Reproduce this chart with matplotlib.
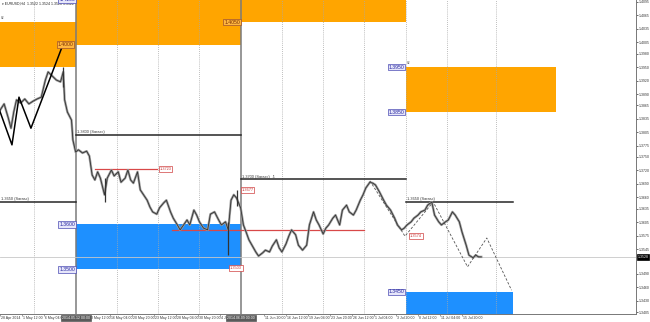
import numpy as np
import matplotlib.pyplot as plt
import matplotlib.transforms as mtrans

plt.rcParams['font.family'] = ['Liberation Sans', 'DejaVu Sans']

# H4 bar index -> close price
bars = [0, 3, 6, 8, 10, 12, 15, 18, 21, 24, 27, 30, 33, 35, 38, 41, 44, 46, 47, 49,
        52, 53, 55, 57, 60, 63, 65, 67, 69, 71, 73, 76, 78, 81, 83, 86, 88, 91, 93, 95,
        97, 100, 102, 105, 107, 109, 111, 114, 116, 119, 121, 124, 126, 129, 131, 134, 136, 138, 141, 143,
        145, 148, 151, 153, 156, 159, 161, 164, 166, 168, 170, 172, 175, 177, 179, 181, 184, 186, 188, 191,
        193, 196, 198, 201, 203, 205, 208, 210, 212, 215, 217, 220, 223, 225, 228, 230, 232, 235, 237, 239,
        242, 244, 247, 249, 252, 254, 257, 259, 262, 264, 266, 269, 271, 273, 276, 279, 281, 284, 287, 289,
        292, 294, 296, 299, 301, 304, 306, 309, 311, 314, 316, 319, 321, 324, 326, 329, 331, 334, 336, 339,
        341, 344, 346, 348, 350]
closes = [1.3854, 1.3868, 1.3837, 1.3814, 1.3850, 1.3877, 1.3870, 1.3879, 1.3868, 1.3874,
          1.3879, 1.3883, 1.3921, 1.3939, 1.3930, 1.3921, 1.3917, 1.3939, 1.3877, 1.3850,
          1.3832, 1.3788, 1.3761, 1.3766, 1.3759, 1.3763, 1.3752, 1.3710, 1.3699, 1.3717,
          1.3703, 1.3666, 1.3703, 1.3721, 1.3708, 1.3717, 1.3694, 1.3703, 1.3721, 1.3699,
          1.3692, 1.3717, 1.3677, 1.3663, 1.3654, 1.3639, 1.3628, 1.3623, 1.3637, 1.3648,
          1.3654, 1.3628, 1.3614, 1.3599, 1.3588, 1.3601, 1.3610, 1.3599, 1.3632, 1.3621,
          1.3606, 1.3592, 1.3588, 1.3623, 1.3628, 1.3610, 1.3599, 1.3606, 1.3588, 1.3654,
          1.3666, 1.3659, 1.3637, 1.3599, 1.3583, 1.3566, 1.3550, 1.3539, 1.3530, 1.3537,
          1.3543, 1.3539, 1.3552, 1.3566, 1.3548, 1.3539, 1.3557, 1.3574, 1.3588, 1.3577,
          1.3554, 1.3543, 1.3554, 1.3599, 1.3628, 1.3610, 1.3599, 1.3579, 1.3592, 1.3599,
          1.3614, 1.3621, 1.3599, 1.3632, 1.3643, 1.3628, 1.3621, 1.3632, 1.3654, 1.3666,
          1.3681, 1.3694, 1.3692, 1.3688, 1.3672, 1.3654, 1.3643, 1.3632, 1.3614, 1.3599,
          1.3588, 1.3592, 1.3599, 1.3606, 1.3614, 1.3621, 1.3628, 1.3632, 1.3643, 1.3650,
          1.3621, 1.3606, 1.3599, 1.3606, 1.3610, 1.3628, 1.3621, 1.3606, 1.3583, 1.3554,
          1.3532, 1.3526, 1.3532, 1.3528, 1.3528]

spike_bar = [46, 76, 166, 172]
spike_lo = [1.3906, 1.3650, 1.3532, 1.3640]
spike_hi = [1.3950, 1.3703, 1.3606, 1.3677]

# zigzags
zz_bar = [-2, 8.7, 13.8, 22.5, 45.8]
zz_price = [1.3868, 1.3777, 1.3883, 1.3814, 1.4000]
zz2_bar = [269, 294.5, 315, 340, 354, 372]
zz2_price = [1.3697, 1.3574, 1.3650, 1.3506, 1.3570, 1.3454]

# zones: (start bar, end bar, low, high)
orange_zones = [(-5, 55, 1.3950, 1.4050), (55, 175, 1.4000, 1.4100),
                (175, 295, 1.4050, 1.4150), (295, 404, 1.3850, 1.3950)]
blue_zones = [(55, 175, 1.3500, 1.3600), (295, 373, 1.3300, 1.3450)]

# levels: (start, end, price)
levels = [(0, 55, 1.3650), (55, 175, 1.3800), (175, 295, 1.3700), (295, 373, 1.3650)]
level_names = ['1.3650 (Sarasc)', '1.3800 (Sarasc)', '1.3700 (Sarasc)  \u21e9', '1.3650 (Sarasc)']
red_levels = [(69, 114, 1.3723), (125, 265, 1.3587)]
red_tags = [(120.5, 1.3723, '1.3723'), (180, 1.3677, '1.3677'),
            (171.6, 1.3503, '1.3503'), (302.5, 1.3574, '1.3574')]
brown_tags = [(53.5, 1.4000, '1.4000'), (174.5, 1.4050, '1.4050')]
blue_tags = [(54.5, 1.4100, '1.4100'), (54.5, 1.3600, '1.3600'), (54.5, 1.3500, '1.3500'),
             (294, 1.3950, '1.3950'), (294, 1.3850, '1.3850'), (294, 1.3450, '1.3450')]

grid_bars = [25, 85, 115, 145, 205, 235, 265, 295, 325, 361]
sep_bars = [55, 175]
sep_names = ['2014.05.12 00:00', '2014.06.09 00:00']

# time labels every 16 bars; those under the separator tags are not shown
time_bars = [0, 16, 32, 64, 80, 96, 112, 128, 144, 160, 192, 208, 224, 240, 256, 272, 288,
             304, 320, 336]
time_labels = ['28 Apr 2014', '1 May 12:00', '6 May 04:00', '13 May 12:00',
               '16 May 04:00', '20 May 20:00', '23 May 12:00', '28 May 04:00', '30 May 20:00',
               '4 Jun 12:00', '11 Jun 20:00', '16 Jun 12:00', '19 Jun 04:00',
               '23 Jun 20:00', '26 Jun 12:00', '1 Jul 04:00', '3 Jul 20:00', '8 Jul 12:00',
               '11 Jul 04:00', '15 Jul 20:00']
price_ticks = [1.4095, 1.4065, 1.4035, 1.4005, 1.3980, 1.3950, 1.3920, 1.3890, 1.3865,
               1.3835, 1.3805, 1.3775, 1.3750, 1.3720, 1.3690, 1.3660, 1.3635, 1.3605,
               1.3575, 1.3545, 1.3490, 1.3460, 1.3430, 1.3405]
last_price = 1.3528

fs = 2.5
fig = plt.figure(figsize=(6.5, 3.22), dpi=100)
ax = fig.add_axes([0, 8 / 322, 636 / 650, 314 / 322])
ax.set_xlim(0, 462.5)
ax.set_ylim(1.34011, 1.40989)

for x0, x1, lo, hi in orange_zones:
    ax.fill_between([x0, x1], lo, hi, color='#ffa500', lw=0, zorder=1)
for x0, x1, lo, hi in blue_zones:
    ax.fill_between([x0, x1], lo, hi, color='#1e90ff', lw=0, zorder=1)

for g in grid_bars:
    ax.axvline(g, color='#a8a8a8', lw=0.6, ls=(0, (1, 1.5)), zorder=2)
for s in sep_bars:
    ax.axvline(s, color='#7a7a7a', lw=1.1, zorder=2)
ax.axhline(last_price, color='#c8c8c8', lw=0.6, zorder=2)

for (x0, x1, p), name in zip(levels, level_names):
    ax.plot([x0, x1], [p, p], color='#262626', lw=1.1, zorder=3)
    ax.text(x0 + 1, p + 0.0002, name, fontsize=fs + 0.3, color='#333333', va='bottom', ha='left', zorder=6)
for x0, x1, p in red_levels:
    ax.plot([x0, x1], [p, p], color='#d84848', lw=0.9, zorder=4)

# price bars
ax.plot(bars, closes, color='#9c9c9c', lw=1.7, zorder=4)
ax.plot(bars, closes, color='#333333', lw=0.6, zorder=5)
ax.vlines(spike_bar, spike_lo, spike_hi, color='#333333', lw=0.9, zorder=5)

ax.plot(zz_bar, zz_price, color='black', lw=1.1, zorder=5)
ax.plot(zz2_bar, zz2_price, color='#555555', lw=0.6, ls=(0, (3, 2)), zorder=5)

for x, p, t in red_tags:
    ax.text(x, p, t, fontsize=fs + 0.3, color='#c83030', ha='center', va='center', zorder=7,
            bbox=dict(boxstyle='square,pad=0.2', fc='white', ec='#d04040', lw=0.5))
for x, p, t in brown_tags:
    ax.text(x, p, t, fontsize=fs + 1.2, color='#7a2e00', ha='right', va='center', zorder=7,
            bbox=dict(boxstyle='square,pad=0.15', fc='#ffb640', ec='#a0522d', lw=0.5))
for x, p, t in blue_tags:
    ax.text(x, p, t, fontsize=fs + 1.2, color='#2828a0', ha='right', va='center', zorder=7,
            bbox=dict(boxstyle='square,pad=0.15', fc='#e6e6fa', ec='#4b4bb4', lw=0.5))

ax.text(0.5, 1.4059, '82', fontsize=fs - 0.2, color='#555555', ha='left', va='center', zorder=7)
ax.text(296, 1.3959, '82', fontsize=fs - 0.2, color='#555555', ha='left', va='center', zorder=7)
ax.text(1.5, 1.4092, '\u25be EURUSD,H4  1.3522 1.3524 1.3520 1.3522', fontsize=fs,
        color='#222222', ha='left', va='center', zorder=6)

# axes look
for sp in ['top', 'left']:
    ax.spines[sp].set_visible(False)
ax.spines['right'].set_color('#777777')
ax.spines['bottom'].set_color('#777777')
ax.spines['right'].set_linewidth(0.7)
ax.spines['bottom'].set_linewidth(0.7)
ax.yaxis.tick_right()
ax.set_yticks(price_ticks)
ax.set_yticklabels(['%.4f' % v for v in price_ticks])
ax.tick_params(axis='y', labelsize=fs, length=1.5, width=0.5, pad=0.8, colors='#333333')
ax.set_xticks(time_bars)
ax.set_xticklabels([])
ax.tick_params(axis='x', length=1.2, width=0.5, colors='#777777')

trans = ax.get_xaxis_transform()
for b, t in zip(time_bars, time_labels):
    ax.text(b + 0.5, -0.006, t, transform=trans, fontsize=fs, color='#333333',
            ha='left', va='top', clip_on=False)
for b, t in zip(sep_bars, sep_names):
    ax.text(b, -0.006, t, transform=trans, fontsize=fs, color='white', ha='center', va='top',
            clip_on=False, zorder=8,
            bbox=dict(boxstyle='square,pad=0.3', fc='#5a5a5a', ec='#5a5a5a', lw=0.5))

ptrans = mtrans.blended_transform_factory(ax.transAxes, ax.transData)
ax.text(1.002, last_price, '%.4f' % last_price, transform=ptrans, fontsize=fs, color='white',
        ha='left', va='center', clip_on=False, zorder=8,
        bbox=dict(boxstyle='square,pad=0.2', fc='black', ec='black', lw=0.5))

fig.savefig('out.png', dpi=100)
